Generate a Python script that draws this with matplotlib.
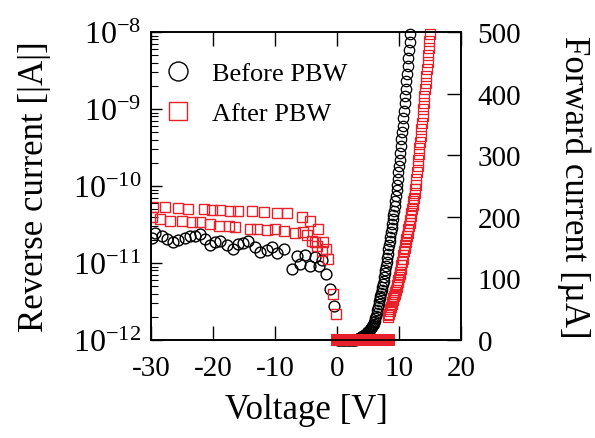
import numpy as np
import matplotlib
matplotlib.use("Agg")
import matplotlib.pyplot as plt

plt.rcParams['font.family'] = ['Liberation Serif', 'DejaVu Serif']
plt.rcParams['mathtext.fontset'] = 'custom'
plt.rcParams['mathtext.rm'] = 'Liberation Serif'
plt.rcParams['axes.unicode_minus'] = False

# reverse sweep, left (log) axis, current in units of 1e-11 A
before_rev_v = [-29.9, -29.4, -28.3, -27.5, -26.5, -25.6, -24.5, -23.7, -22.9, -22.1,
                -21.3, -20.5, -19.6, -18.8, -17.7, -16.7, -15.9, -15.1, -14.3, -13.2,
                -12.4, -11.3, -10.5, -9.7, -8.6, -7.2, -6.4, -5.9, -5.1, -4.3,
                -3.6, -2.9, -2.4, -1.7, -1.1, -0.5]
before_rev_i = [2.09, 2.43, 2.22, 2.05, 1.85, 2.01, 2.09, 2.26, 2.22, 2.38,
                2.05, 1.71, 1.85, 1.95, 1.71, 1.52, 1.75, 1.80, 1.95, 1.63,
                1.38, 1.49, 1.60, 1.36, 1.52, 0.84, 1.22, 0.97, 1.27, 0.92,
                1.19, 0.91, 1.09, 0.73, 0.46, 0.28]

after_rev_v = [-29.6, -27.7, -25.6, -24.0, -21.5, -20.2, -18.8, -17.2, -15.9, -13.7,
               -11.8, -9.7, -8.0, -5.6, -4.3, -3.0,
               -29.9, -28.5, -26.9, -25.0, -23.4, -22.1, -20.5, -19.1, -17.5, -16.4,
               -14.0, -12.9, -11.3, -10.0, -8.6, -6.7, -5.5, -4.8, -4.0, -3.5,
               -3.2, -2.4, -2.2, -1.8, -1.4, -0.7, -0.2]
after_rev_i = [5.4, 5.3, 5.2, 5.0, 5.1, 4.9, 4.9, 4.8, 4.8, 4.7,
               4.6, 4.5, 4.4, 4.0, 3.5, 2.75,
               3.92, 3.73, 3.54, 3.54, 3.37, 3.37, 3.21, 3.05, 2.99, 2.90,
               2.76, 2.76, 2.70, 2.76, 2.63, 2.45, 2.50, 2.30, 1.95, 1.90,
               1.67, 1.44, 1.85, 1.50, 1.13, 0.40, 0.22]

# forward sweep, right axis, current in uA (voltage swept in 0.1 V steps)
before_fwd_v = np.round(np.arange(0, 11.85, 0.1), 1)
before_fwd_i = [0] * 30 + [
    0.5, 0.8, 1.1, 1.5, 1.9, 2.3, 2.8, 3.3, 3.9, 4.5,
    5.1, 5.8, 6.5, 7.2, 8.0, 8.8, 9.6, 10.5, 11.4, 12.3,
    13.3, 14.3, 15.4, 16.5, 17.7, 19.0, 20.4, 22.0, 23.8, 26.0,
    28.5, 31.5, 35, 39, 43.5, 48, 53, 58, 63, 67.5,
    72, 76.5, 81, 86, 91, 96.5, 102, 108, 114, 120,
    126, 133, 140, 147, 154, 161, 168, 175, 182, 189,
    196, 203, 210, 217, 225, 234, 243, 252, 262, 272,
    282, 293, 304, 315, 326, 337, 348, 360, 372, 384,
    396, 408, 420, 432, 445, 458, 471, 484, 497]

after_zero_v = np.round(np.arange(0, 8.45, 0.1), 1)
after_zero_i = [0] * len(after_zero_v)
after_fwd_v = np.round(np.arange(8.2, 15.05, 0.1), 1)
after_fwd_i = [37, 40, 43, 47, 50, 54, 58, 62, 65, 68,
               72, 75, 78, 82, 86, 90, 94, 98, 102, 107,
               111, 116, 121, 127, 132, 138, 144, 149, 154, 159,
               164, 169, 174, 180, 185, 190, 195, 201, 207, 213,
               219, 225, 231, 238, 245, 252, 262, 272, 282, 292,
               302, 312, 322, 332, 343, 353, 364, 375, 385, 396,
               407, 418, 429, 440, 451, 462, 474, 486, 497]

red = '#e8202a'

fig = plt.figure(figsize=(5.95, 4.39), dpi=100)
ax = fig.add_axes([0.2538, 0.2232, 0.521, 0.7016])
ax2 = ax.twinx()

ax.plot(before_rev_v, np.array(before_rev_i) * 1e-11, 'o', mfc='none', mec='black',
        ms=7.8, mew=1.0, label='Before PBW')
ax.plot(after_rev_v, np.array(after_rev_i) * 1e-11, 's', mfc='none', mec=red,
        ms=7.2, mew=1.0, label='After PBW')

ax2.plot(before_fwd_v, before_fwd_i, 'o', mfc='none', mec='black', ms=7.5, mew=0.9, clip_on=False)
ax2.plot(after_zero_v, after_zero_i, 's', mfc='none', mec=red, ms=7, mew=1.4, clip_on=False)
ax2.plot(after_fwd_v, after_fwd_i, 's', mfc='none', mec=red, ms=7, mew=0.9, clip_on=False)

ax.set_yscale('log')
ax.set_ylim(1e-12, 1e-8)
ax.set_xlim(-30, 20)
ax.set_xticks([-30, -20, -10, 0, 10, 20])
ax2.set_ylim(0, 500)
ax2.set_yticks([0, 100, 200, 300, 400, 500])

ax.tick_params(axis='x', which='both', direction='in', top=True, length=10, width=1, labelsize=21, pad=11)
ax.tick_params(axis='y', which='major', direction='in', length=8, width=1, labelsize=23, right=False, pad=7)
ax.tick_params(axis='y', which='minor', direction='in', length=5, width=0.8, right=False)
ax2.tick_params(axis='y', direction='in', length=10, width=1, labelsize=21, pad=12)
for a in (ax, ax2):
    for s in a.spines.values():
        s.set_linewidth(1.2)

ax.set_xlabel('Voltage [V]', fontsize=25, va='center')
ax.xaxis.set_label_coords(0.5, -0.225)
ax.set_ylabel('Reverse current [|A|]', fontsize=25, va='center')
ax.yaxis.set_label_coords(-0.375, 0.5)
ax2.set_ylabel('Forward current [\u00b5A]', fontsize=25, rotation=270, va='center')
ax2.yaxis.set_label_coords(1.365, 0.5)

leg = ax2.legend(*ax.get_legend_handles_labels(), loc='upper left', frameon=False,
                 fontsize=19, markerscale=1.75, handlelength=1.0, handletextpad=0.8,
                 labelspacing=0.64, borderaxespad=0, borderpad=0,
                 bbox_to_anchor=(0.045, 0.905))

fig.savefig('out.png', dpi=100)
